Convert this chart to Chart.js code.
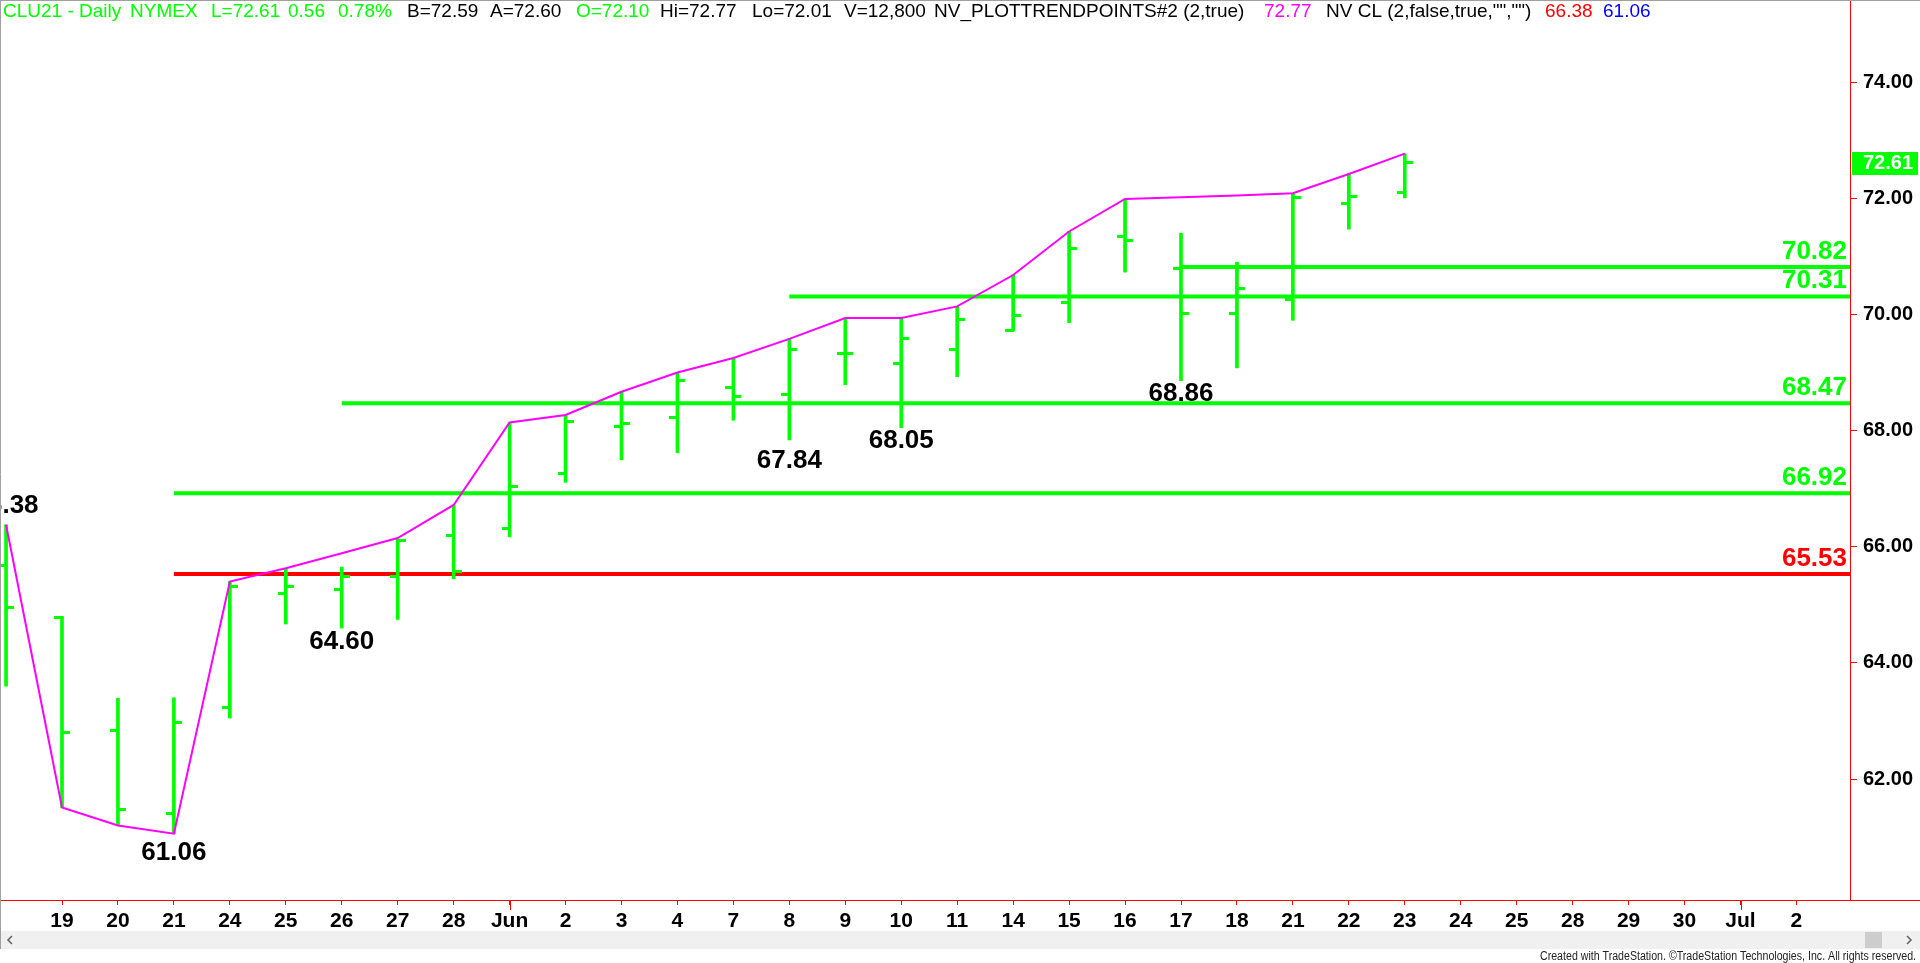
<!DOCTYPE html>
<html><head><meta charset="utf-8">
<script src="https://cdn.jsdelivr.net/npm/chart.js@4.4.0/dist/chart.umd.min.js"></script>
<style>html,body{margin:0;padding:0;background:#fff;overflow:hidden}#wrap{width:1920px;height:963px;position:relative}</style>
</head><body><div id="wrap"><canvas id="c" width="1920" height="963"></canvas></div>
<script>
// ---- DATA ----
// axis labels: element k sits at x index k-1 (first one, May 18, is cut off at the left edge)
const axisLabels = ['18','19','20','21','24','25','26','27','28','Jun','2','3','4','7','8','9','10','11','14','15','16','17','18','21','22','23','24','25','28','29','30','Jul','2'];
// daily bars May 18 .. Jun 23 (x index -1 .. 24)
const barOpen  = [65.67,64.78,62.83,61.40,63.24,65.20,65.27,65.48,66.19,66.31,67.27,68.07,68.22,68.74,68.63,69.32,69.15,69.39,69.72,70.20,71.34,70.79,70.02,70.25,71.92,72.10];
const barHigh  = [66.38,64.80,63.39,63.40,65.40,65.63,65.65,66.13,66.72,68.14,68.27,68.67,69.00,69.25,69.58,69.94,69.94,70.14,70.68,71.43,71.99,71.40,70.90,72.09,72.42,72.77];
const barLow   = [63.60,61.51,61.20,61.06,63.05,64.67,64.60,64.75,65.45,66.17,67.11,67.50,67.62,68.18,67.84,68.79,68.05,68.93,69.72,69.86,70.73,68.86,69.08,69.90,71.47,72.01];
const barClose = [64.95,62.81,61.48,62.97,65.32,65.32,65.49,66.10,65.58,67.04,68.15,68.13,68.86,68.59,69.39,69.32,69.58,69.91,69.99,71.13,71.27,70.02,70.44,72.02,72.03,72.61];
// NV_PLOTTRENDPOINTS line
const trendValues = [66.38,61.51,61.20,61.06,65.40,65.63,65.89,66.15,66.72,68.14,68.27,68.67,69.00,69.25,69.58,69.94,69.94,70.14,70.68,71.43,71.99,72.02,72.05,72.09,72.42,72.77];
// horizontal levels and the bar index where each starts
const levelValues = [70.82,70.31,68.47,66.92,65.53];
const levelStartBar = [21,14,6,3,3];
const levelColors = ['#00ff00','#00ff00','#00ff00','#00ff00','#ff0000'];
// pivot labels: bar index, value
const pivotBar = [0,3,6,14,16,21];
const pivotValue = [66.38,61.06,64.60,67.84,68.05,68.86];
const yTickValues = [62,64,66,68,70,72,74];

// ---- STYLE / LAYOUT ----
const GREEN = '#00ff00', RED = '#ff0000', MAGENTA = '#ff00ff';
const pivotLabelDy = [-12,26,21,28,20,20];
const X0_PX = 6.05, X_UNIT = 55.95;       // x index -1 at 6.05px
const Y70_PX = 314.5, Y_UNIT = 58.07;     // price 70 at 314.5px
const barX = i => i - 1;
const SANS = '"Liberation Sans", Arial, sans-serif';

function tickImg(side){
  const c=document.createElement('canvas'); c.width=16; c.height=3;
  const g=c.getContext('2d'); g.fillStyle=GREEN;
  if(side==='L') g.fillRect(0,0,9,3); else g.fillRect(7,0,9,3);
  return c;
}

const datasets = [];
datasets.push({type:'line', label:'trend', data: trendValues.map((v,i)=>({x:barX(i),y:v})),
  borderColor:MAGENTA, borderWidth:2, pointRadius:0, tension:0, order:0, clip:{left:10,top:0,right:0,bottom:0}});
datasets.push({type:'scatter', label:'open', data: barOpen.map((v,i)=>({x:barX(i),y:v})),
  pointStyle: tickImg('L'), pointRadius:3, order:1, clip:false});
datasets.push({type:'scatter', label:'close', data: barClose.map((v,i)=>({x:barX(i),y:v})),
  pointStyle: tickImg('R'), pointRadius:3, order:1, clip:false});
datasets.push({type:'bar', label:'range', data: barLow.map((v,i)=>({x:barX(i),y:[v,barHigh[i]]})),
  backgroundColor:GREEN, borderWidth:0, barThickness:3, order:1, clip:false});
levelValues.forEach((v,j)=>{
  datasets.push({type:'line', label:'lvl'+j, data:[{x:barX(levelStartBar[j]),y:v},{x:40,y:v}],
    borderColor:levelColors[j], borderWidth:4, pointRadius:0, order:2});
});

const header = [
 ['CLU21 - Daily',3,GREEN],['NYMEX',130,GREEN],['L=72.61',211,GREEN],['0.56',288,GREEN],['0.78%',338,GREEN],
 ['B=72.59',407,'#000'],['A=72.60',490,'#000'],['O=72.10',576,GREEN],['Hi=72.77',660,'#000'],['Lo=72.01',752,'#000'],
 ['V=12,800',844,'#000'],['NV_PLOTTRENDPOINTS#2 (2,true)',934,'#000'],['72.77',1264,MAGENTA],
 ['NV CL (2,false,true,"","")',1326,'#000'],['66.38',1545,RED],['61.06',1603,'#0000ff']
];

const deco = {
  id:'deco',
  afterDatasetsDraw(chart){
    const ctx=chart.ctx, xs=chart.scales.x, ys=chart.scales.y, ca=chart.chartArea;
    ctx.save();
    ctx.font='bold 26px '+SANS; ctx.textAlign='right'; ctx.textBaseline='alphabetic';
    levelValues.forEach((v,j)=>{ ctx.fillStyle=levelColors[j]; ctx.fillText(v.toFixed(2), ca.right-3, ys.getPixelForValue(v)-8); });
    ctx.fillStyle='#000'; ctx.textAlign='center';
    pivotBar.forEach((b,k)=>{
      const x=xs.getPixelForValue(barX(b));
      const y=ys.getPixelForValue(pivotValue[k]);
      ctx.fillText(pivotValue[k].toFixed(2), x, y+pivotLabelDy[k]);
    });
    ctx.restore();
  },
  afterDraw(chart){
    const ctx=chart.ctx, xs=chart.scales.x, ys=chart.scales.y, ca=chart.chartArea;
    const W=chart.width;
    ctx.save();
    ctx.strokeStyle=RED; ctx.lineWidth=1;
    ctx.beginPath();
    ctx.moveTo(0, ca.bottom+0.5); ctx.lineTo(W, ca.bottom+0.5);
    ctx.moveTo(ca.right+0.5, 0); ctx.lineTo(ca.right+0.5, ca.bottom);
    ctx.stroke();
    axisLabels.forEach((l,k)=>{ if(l==='Jun'||l==='Jul'){ const x=Math.round(xs.getPixelForValue(k-1))+0.5; ctx.beginPath(); ctx.moveTo(x,ca.bottom); ctx.lineTo(x,ca.bottom+10); ctx.stroke(); }});
    ctx.strokeStyle='#a0a0a0';
    ctx.beginPath(); ctx.moveTo(0,0.5); ctx.lineTo(W,0.5); ctx.moveTo(0.5,0); ctx.lineTo(0.5,949); ctx.stroke();
    const lastClose = barClose[barClose.length-1];
    const py = ys.getPixelForValue(lastClose);
    ctx.fillStyle=GREEN; ctx.fillRect(ca.right+2, Math.round(py)-11, 66, 23);
    ctx.fillStyle='#fff'; ctx.font='bold 20px '+SANS; ctx.textAlign='left'; ctx.textBaseline='middle';
    ctx.fillText(lastClose.toFixed(2), ca.right+13, py+1);
    ctx.font='19px '+SANS; ctx.textBaseline='middle';
    header.forEach(h=>{ ctx.fillStyle=h[2]; ctx.fillText(h[0], h[1], 12); });
    ctx.fillStyle='#f0f0f0'; ctx.fillRect(1,931,W-1,18);
    ctx.fillStyle='#cdcdcd'; ctx.fillRect(1865,932,17,16);
    ctx.strokeStyle='#606060'; ctx.lineWidth=1.5;
    ctx.beginPath(); ctx.moveTo(12,936); ctx.lineTo(8,940); ctx.lineTo(12,944); ctx.stroke();
    ctx.beginPath(); ctx.moveTo(1907,936); ctx.lineTo(1911,940); ctx.lineTo(1907,944); ctx.stroke();
    const foot='Created with TradeStation. \u00A9TradeStation Technologies, Inc. All rights reserved.';
    ctx.font='12px '+SANS; ctx.fillStyle='#222'; ctx.textAlign='left'; ctx.textBaseline='middle';
    const fw=ctx.measureText(foot).width, target=376;
    ctx.translate(1916-target,957); ctx.scale(target/fw,1); ctx.fillText(foot,0,0);
    ctx.restore();
  }
};

const zeroPad = s => { s.paddingLeft=0; s.paddingRight=0; s.paddingTop=0; s.paddingBottom=0; };

const chart = new Chart(document.getElementById('c'), {
  type:'scatter',
  data:{datasets},
  options:{
    responsive:false, animation:false, devicePixelRatio:1,
    layout:{padding:0},
    plugins:{legend:{display:false}, tooltip:{enabled:false}},
    scales:{
      x:{type:'linear', min:-1.108, max:31.957, offset:false, position:'bottom',
        grid:{display:true, drawOnChartArea:false, drawTicks:true, tickLength:5, tickColor:RED, offset:false},
        border:{display:true, color:RED, width:1},
        afterBuildTicks: s => { s.ticks = axisLabels.slice(1).map((_,k)=>({value:k})); },
        afterFit: s => { s.height = 63; zeroPad(s); },
        ticks:{autoSkip:false, maxRotation:0, minRotation:0, padding:4, color:'#000',
          font:{family: SANS, size: 21, weight:'bold'},
          callback: v => axisLabels[v+1]}
      },
      y:{type:'linear', position:'right', min:59.917, max:75.416,
        grid:{display:true, drawOnChartArea:false, drawTicks:true, tickLength:7, tickColor:RED},
        border:{display:true, color:RED, width:1},
        afterBuildTicks: s => { s.ticks = yTickValues.map(v=>({value:v})); },
        afterFit: s => { s.width = 70; zeroPad(s); },
        ticks:{padding:6, color:'#000', font:{family:SANS, size:20, weight:'bold'}, callback: v => Number(v).toFixed(2)}
      }
    }
  },
  plugins:[deco]
});
// align value ranges to the actual plot area so the pixel mapping matches the target
(function fit(){
  const ca = chart.chartArea, sx = chart.options.scales.x, sy = chart.options.scales.y;
  sx.min = -1 - (X0_PX - ca.left)/X_UNIT;
  sx.max = sx.min + (ca.right - ca.left)/X_UNIT;
  sy.max = 70 + (Y70_PX - ca.top)/Y_UNIT;
  sy.min = sy.max - (ca.bottom - ca.top)/Y_UNIT;
  chart.update('none');
})();
</script>
</body></html>
